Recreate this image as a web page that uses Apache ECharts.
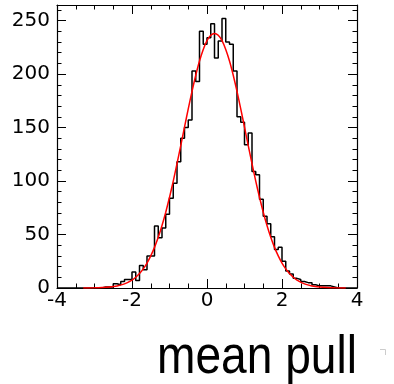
<!DOCTYPE html>
<html>

<head>
    <meta charset="utf-8">
    <title>mean pull</title>
    <style>
        html, body {
            margin: 0;
            padding: 0;
            background: #fff;
        }

        #main {
            width: 394px;
            height: 384px;
        }
    </style>
</head>

<body>
    <div id="main"></div>

    <script src="https://cdn.jsdelivr.net/npm/echarts@6/dist/echarts.min.js"></script>
    <script>
        // histogram: 80 bins of width 0.1 from -4 to 4
        var binLow = -4;
        var binWidth = 0.1;
        var counts = [
            0, 0, 0, 0, 0, 0, 0, 0, 0, 0, 0, 0,
            1, 1, 1, 4, 3, 6, 8, 8, 15, 7,
            21, 17, 30, 30, 58, 47, 56, 69, 84, 98,
            118, 140, 150, 157, 203, 193, 240, 228, 234, 247,
            215, 231, 252, 230, 228, 203, 160, 155, 134, 145,
            109, 106, 83, 67, 60, 48, 36, 38, 25, 16,
            13, 9, 8, 6, 5, 5, 3, 2, 2, 2,
            2, 1,
            0, 0, 0, 0, 0, 0
        ];

        // gaussian fit
        var fitX = [-3.3, -3.0, -2.8, -2.6, -2.4, -2.2, -2.0, -1.9, -1.8, -1.7, -1.6, -1.5, -1.4, -1.3, -1.2, -1.1,
            -1.0, -0.9, -0.8, -0.7, -0.6, -0.5, -0.4, -0.3, -0.2, -0.1, 0, 0.1, 0.2, 0.3, 0.4, 0.5,
            0.6, 0.7, 0.8, 0.9, 1.0, 1.1, 1.2, 1.3, 1.4, 1.5, 1.6, 1.7, 1.8, 1.9, 2.0, 2.1,
            2.2, 2.3, 2.4, 2.6, 2.8, 3.0, 3.2, 3.4, 3.7];
        var fitY = [0.04, 0.15, 0.37, 0.86, 1.87, 3.82, 7.4, 10.1, 13.5, 17.9, 23.3, 30.0, 38.0, 47.4, 58.4, 70.8,
            84.8, 99.9, 116.2, 133.1, 150.4, 167.5, 183.9, 198.9, 212.2, 223.1, 231.3, 236.3, 238, 236.3, 231.3, 223.1,
            212.2, 198.9, 183.9, 167.5, 150.4, 133.1, 116.2, 99.9, 84.8, 70.8, 58.4, 47.4, 38.0, 30.0, 23.3, 17.9,
            13.5, 10.1, 7.4, 3.82, 1.87, 0.86, 0.37, 0.15, 0.04];

        var xTicks = [-4, -2, 0, 2, 4];
        var yTicks = [0, 50, 100, 150, 200, 250];
        var yMax = 264.6;

        var histData = counts.map(function (c, i) {
            return [binLow + i * binWidth, c];
        });
        histData.push([binLow + counts.length * binWidth, 0]);

        var fitData = fitX.map(function (x, i) {
            return [x, fitY[i]];
        });

        var labelFont = {
            fontFamily: 'DejaVu Sans',
            fontSize: 20,
            color: '#000'
        };

        function frameAxis(pos, isX, showLabel) {
            return {
                type: 'value',
                position: pos,
                min: isX ? xTicks[0] : 0,
                max: isX ? xTicks[xTicks.length - 1] : yMax,
                interval: isX ? 2 : 50,
                splitLine: { show: false },
                axisLine: { show: true, onZero: false, lineStyle: { color: '#000', width: 1.2 } },
                axisTick: { show: true, inside: true, length: 9, lineStyle: { color: '#000', width: 1 } },
                minorTick: { show: true, splitNumber: isX ? 4 : 5, length: 4.5, lineStyle: { color: '#000', width: 1 } },
                axisLabel: Object.assign({
                    show: showLabel,
                    margin: isX ? 3 : 7,
                    showMaxLabel: isX,
                    showMinLabel: true
                }, labelFont)
            };
        }

        var chartDom = document.getElementById('main');
        var myChart = echarts.init(chartDom);
        var option;

        option = {
            animation: false,
            backgroundColor: '#fff',
            grid: {
                left: 57,
                right: 37,
                top: 5,
                bottom: 96
            },
            xAxis: [frameAxis('bottom', true, true), frameAxis('top', true, false)],
            yAxis: [frameAxis('left', false, true), frameAxis('right', false, false)],
            series: [
                {
                    name: 'pull',
                    type: 'line',
                    step: 'end',
                    symbol: 'none',
                    data: histData,
                    lineStyle: { color: '#000', width: 1.5 }
                },
                {
                    name: 'fit',
                    type: 'line',
                    symbol: 'none',
                    smooth: 0.2,
                    data: fitData,
                    lineStyle: { color: '#ff0000', width: 1.5 }
                }
            ],
            graphic: [
                {
                    type: 'text',
                    x: 357,
                    y: 358,
                    scaleX: 0.87,
                    style: {
                        text: 'mean pull',
                        fontFamily: 'Liberation Sans',
                        fontSize: 53,
                        fill: '#000',
                        textAlign: 'right',
                        textVerticalAlign: 'middle'
                    }
                },
                {
                    type: 'polyline',
                    shape: { points: [[380, 349.5], [385.5, 349.5], [385.5, 355]] },
                    style: { stroke: '#ccc', lineWidth: 1, fill: null }
                }
            ]
        };

        option && myChart.setOption(option);
    </script>
</body>

</html>
